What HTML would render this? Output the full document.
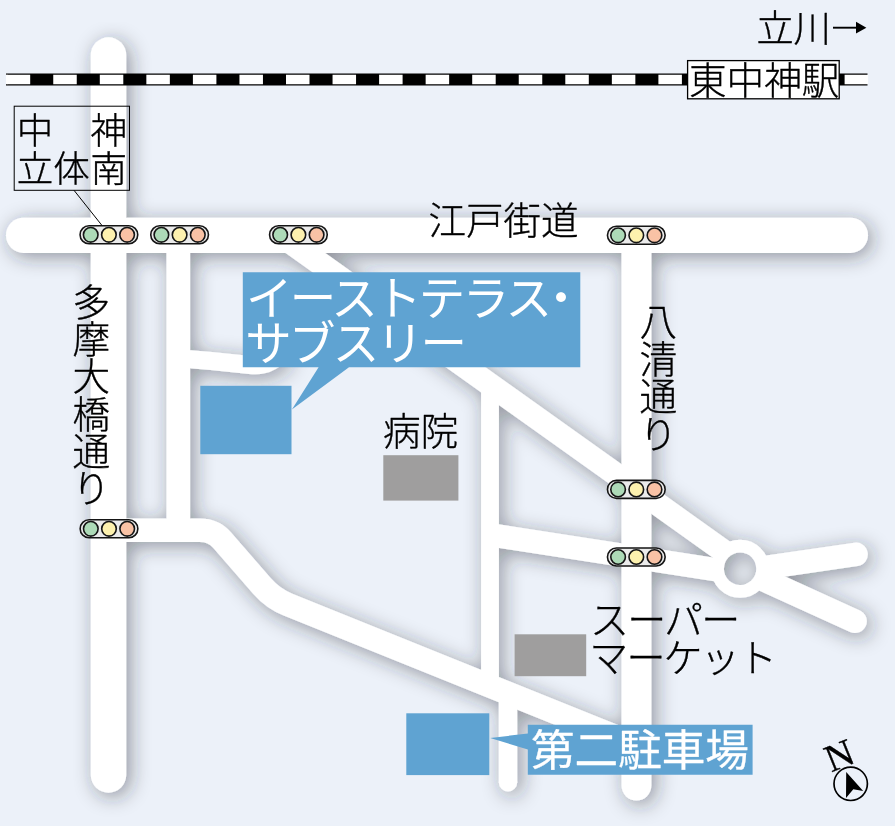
<!DOCTYPE html>
<html lang="ja">
<head>
<meta charset="utf-8">
<title>アクセスマップ</title>
<style>
html,body{margin:0;padding:0;background:#ecf1f9;}
body{width:895px;height:826px;overflow:hidden;}
svg{display:block;}
text{font-family:"Liberation Sans","Noto Sans CJK JP",sans-serif;font-weight:300;fill:#000;stroke:#000;stroke-width:.36px;stroke-linejoin:round;}
.w{fill:#fff;stroke:#fff;font-weight:400;stroke-width:.3px;}
.k{stroke-width:0;}
svg{opacity:.999;}
</style>
</head>
<body>
<svg width="895" height="826" viewBox="0 0 895 826">
<defs>
<filter id="sh" x="-5%" y="-5%" width="110%" height="110%">
<feGaussianBlur in="SourceAlpha" stdDeviation="10"/>
<feOffset dx="4" dy="4" result="b"/>
<feFlood flood-color="#252830" flood-opacity="0.45"/>
<feComposite in2="b" operator="in"/>
<feMerge><feMergeNode/><feMergeNode in="SourceGraphic"/></feMerge>
</filter>
<mask id="hole" maskUnits="userSpaceOnUse" x="0" y="0" width="895" height="826"><rect width="895" height="826" fill="#fff"/><circle cx="740.1" cy="568.8" r="16.2" fill="#000"/></mask>
<g id="tl">
<rect x="-28.85" y="-9" width="57.7" height="18" rx="9" fill="#ebebeb" stroke="#151515" stroke-width="1.6"/>
<circle cx="-18.2" cy="0" r="7.3" fill="#addab7" stroke="#151515" stroke-width="1.6"/>
<circle cx="0" cy="0" r="7.3" fill="#fdf1ae" stroke="#151515" stroke-width="1.6"/>
<circle cx="18.2" cy="0" r="7.3" fill="#f9c2a5" stroke="#151515" stroke-width="1.6"/>
</g>
</defs>
<rect width="895" height="826" fill="#ecf1f9"/>

<!-- roads -->
<g filter="url(#sh)"><g mask="url(#hole)" fill="none" stroke="#fff" stroke-linecap="round" stroke-linejoin="round">
<path d="M108.5,55 V775" stroke-width="35.4"/>
<path d="M23.6,235.3 H850.4" stroke-width="35.2"/>
<path d="M178.3,240 V530" stroke-width="23.6" stroke-linecap="butt"/>
<path d="M178,358.3 Q215,361 250,365 Q271,367.5 283,350" stroke-width="18" stroke-linecap="butt"/>
<path d="M287,239.9 L740,562.8" stroke-width="23" stroke-linecap="butt"/>
<path d="M740.2,569 L855,621.2" stroke-width="23.6"/>
<path d="M490,392 V687" stroke-width="17.8" stroke-linecap="butt"/>
<path d="M508,693 V782.3" stroke-width="18.4" stroke-linecap="butt"/><circle cx="508" cy="782.3" r="9.2" fill="#fff" stroke="none"/>
<path d="M636.45,240 V785.6" stroke-width="29.8"/>
<path d="M490,534.75 L740.2,573.5" stroke-width="23.4" stroke-linecap="butt"/>
<path d="M740.2,571.2 L856,554.4" stroke-width="23.6"/>
<path d="M108.5,530.3 H200 Q213.6,530.3 222,540 L262,586 Q273,598.6 288,604.6 L636,744.9" stroke-width="23.5" stroke-linecap="butt"/>
<circle cx="740.1" cy="568.8" r="22.6" stroke-width="12.8"/>
</g></g>

<!-- railway -->
<g>
<path d="M6,79.45 H867.5" stroke="#000" stroke-width="12.1" fill="none"/>
<path d="M6.7,79.45 H868.5" stroke="#fff" stroke-width="9.5" stroke-dasharray="23.5 23.05" fill="none"/><rect x="6" y="74.7" width="1.5" height="9.5" fill="#fff"/>
<rect x="839" y="74" width="5" height="11" fill="#000"/>
<rect x="687.6" y="60.6" width="151.6" height="38.2" fill="#fff" stroke="#000" stroke-width="1.3"/>
<text x="689" y="93.6" font-size="37.6">東中神駅</text>
</g>

<!-- top right -->
<text x="756.4" y="42.3" font-size="37.2">立川</text>
<path d="M833,27.7 H857" stroke="#000" stroke-width="1.9" fill="none"/>
<path d="M866.4,27.7 L856,21.8 V33.6 Z" fill="#000"/>

<!-- label box -->
<rect x="14.2" y="106.2" width="115.3" height="84.1" fill="none" stroke="#000" stroke-width="1"/>
<path d="M74,190.3 L102,225.5" stroke="#000" stroke-width="1" fill="none"/>
<text x="16.7 90.5" y="143.9 143.9" font-size="36.5">中神</text>
<text x="16.8 53.3 90.4" y="181.8 181.8 181.8" font-size="36.5">立体南</text>

<!-- traffic lights -->
<use href="#tl" x="108.9" y="234.8"/>
<use href="#tl" x="179.6" y="234.8"/>
<use href="#tl" x="298.4" y="234.8"/>
<use href="#tl" x="636.3" y="235.3"/>
<use href="#tl" x="109" y="528.8"/>
<use href="#tl" x="636.3" y="489.4"/>
<use href="#tl" x="636.3" y="557"/>

<!-- road names -->
<text x="428.4" y="234.1" font-size="37.6">江戸街道</text>
<text text-anchor="middle" font-size="37.6" x="91.2 91.2 91.2 91.2 91.2 91.2" y="315.6 352.9 390.2 427.5 464.8 502.1">多摩大橋通り</text>
<text text-anchor="middle" font-size="37.6" x="658.4 658.4 658.4 658.4" y="335.4 372.9 410.4 447.9">八清通り</text>

<!-- buildings -->
<rect x="200.3" y="385.8" width="91.2" height="68.4" fill="#5fa3d2"/>
<rect x="406.3" y="713.3" width="83" height="61.8" fill="#5fa3d2"/>
<rect x="383.3" y="455.2" width="75.1" height="45.4" fill="#9f9e9e"/>
<rect x="514.6" y="634.3" width="71.6" height="41.9" fill="#9f9e9e"/>
<text x="383.1" y="444.9" font-size="37.6">病院</text>
<text x="590" y="633.7" font-size="39" letter-spacing="-1.8">スーパー</text>
<text x="589.2" y="672.1" font-size="39" letter-spacing="-1.8">マーケット</text>

<!-- callouts -->
<path d="M242.8,272.2 H580.3 V367.3 H349 L291.9,409.5 L318.6,367.3 H242.8 Z" fill="#5fa3d2"/>
<text class="w k" x="246" y="315" font-size="46.5" letter-spacing="-2.7">イーストテラス<tspan dx="-11.6">・</tspan></text>
<text class="w k" x="245.2" y="360" font-size="46.5" letter-spacing="-2.7">サブスリー</text>
<path d="M527.8,724.8 H752.6 V774.8 H527.8 V749.5 L490.2,738 L527.8,733.5 Z" fill="#5fa3d2"/>
<text class="w" x="531" y="766" font-size="43.6">第二駐車場</text>

<!-- compass -->
<circle cx="850.7" cy="783.8" r="16.7" fill="none" stroke="#000" stroke-width="1.7"/>
<path d="M846.2,772 L863.2,791 L853.3,789.3 L846,798 Z" fill="#000"/>
<text x="0" y="0" font-size="38.5" transform="translate(839.2,755.3) rotate(-22)" text-anchor="middle" dominant-baseline="central" style="font-family:'Liberation Serif',serif;font-weight:400">N</text>
</svg>
</body>
</html>
